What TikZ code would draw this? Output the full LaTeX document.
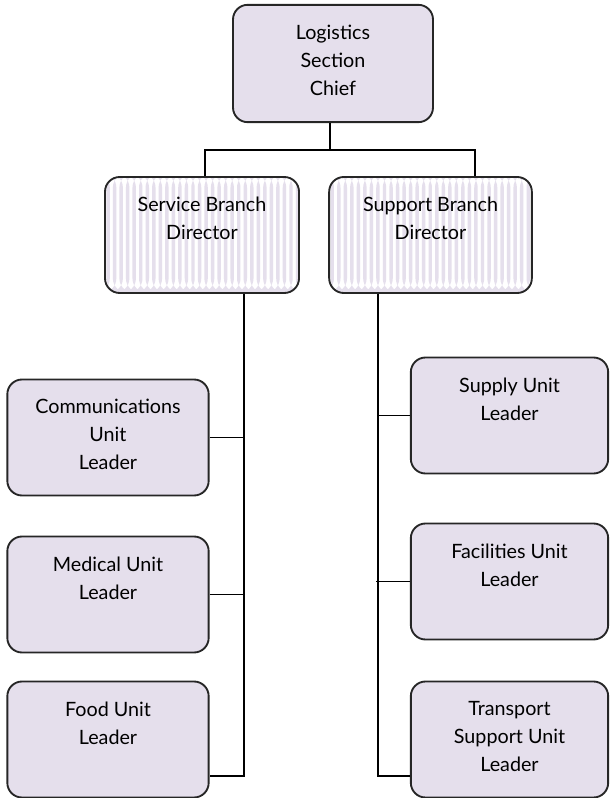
\documentclass[tikz,border=0pt]{standalone}
\usepackage{fontspec}
\setmainfont{Lato}
\usepackage{xcolor}
\usepackage{tikz}
\definecolor{unitfill}{HTML}{E5DFEC}

\begin{document}
\begin{tikzpicture}[x=0.75pt,y=-0.75pt,
        link/.style = {line width=1.4pt, draw=black},
        unit/.style = {rectangle, rounded corners=11pt,
            draw=black!85, line width=1.4pt, fill=unitfill,
            minimum width=151pt, minimum height=87pt,
            inner xsep=0pt, inner ysep=15pt,
            font=\fontsize{14.8}{21}\selectfont,
            execute at begin node={\begin{minipage}[c][57pt][t]{145pt}\centering},
            execute at end node={\end{minipage}}},
        branch/.style = {unit, fill=white,
            path picture={
                \foreach \k in {0,...,32}
                    \fill[unitfill] ([xshift=\k*4.9pt+1pt]path picture bounding box.south west) rectangle ++(2.6pt,90pt);
            }}]

        \useasboundingbox (0,0) rectangle (610,798);

        % Section chief
        \node[unit, minimum width=150pt, minimum height=88pt] (chief) at (333,63.5) {Logistics\\Section\\Chief};

        % Branch directors
        \node[branch, minimum width=145.5pt] (service) at (202,235) {Service Branch\\Director};
        \node[branch, minimum width=152pt] (support) at (430.5,235) {Support Branch\\Director};

        % Service branch units
        \node[unit] (comm) at (108,437.5) {Communications\\Unit\\Leader};
        \node[unit] (medical) at (108,594.5) {Medical Unit\\Leader};
        \node[unit] (food) at (108,739.5) {Food Unit\\Leader};

        % Support branch units
        \node[unit, minimum width=148pt] (supply) at (509.5,415.5) {Supply Unit\\Leader};
        \node[unit, minimum width=148pt] (facilities) at (509.5,581.5) {Facilities Unit\\Leader};
        \node[unit, minimum width=148pt] (transport) at (509.5,739.5) {Transport\\Support Unit\\Leader};

        % Chief to branches
        \coordinate (hub) at (330,150);
        \coordinate (hubL) at (205,150);
        \coordinate (hubR) at (475,150);
        \draw[link] (chief.south -| hub) -- (hub);
        \draw[link] (service.north -| hubL) -- (hubL) -- (hubR) -- (support.north -| hubR);

        % Service branch trunk
        \coordinate (svcfoot) at (244,776);
        \draw[link] (service.south -| svcfoot) -- (svcfoot) -- (food.east |- svcfoot);
        \draw[link] (comm.east) -- (comm.east -| svcfoot);
        \draw[link] (medical.east) -- (medical.east -| svcfoot);

        % Support branch trunk
        \coordinate (supfoot) at (378,776);
        \draw[link] (support.south -| supfoot) -- (supfoot) -- (transport.west |- supfoot);
        \draw[link] (supply.west) -- (supply.west -| supfoot);
        \draw[link] (facilities.west) -- ([xshift=-1.5pt]facilities.west -| supfoot);

\end{tikzpicture}
\end{document}
